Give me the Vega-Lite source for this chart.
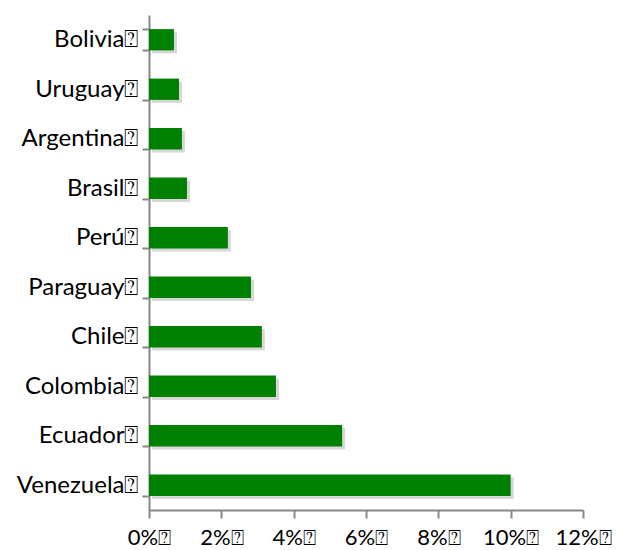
{
  "$schema": "https://vega.github.io/schema/vega-lite/v6.json",
  "autosize": "none",
  "padding": {"left": 149, "top": 15, "right": 40, "bottom": 40},
  "width": 434,
  "height": 495,
  "background": "white",
  "config": {"view": {"stroke": null}},
  "data": {"values": [
    {"pais": "Bolivia⍰", "valor": 0.0069},
    {"pais": "Uruguay⍰", "valor": 0.0083},
    {"pais": "Argentina⍰", "valor": 0.0091},
    {"pais": "Brasil⍰", "valor": 0.0105},
    {"pais": "Perú⍰", "valor": 0.0218},
    {"pais": "Paraguay⍰", "valor": 0.0282},
    {"pais": "Chile⍰", "valor": 0.0312},
    {"pais": "Colombia⍰", "valor": 0.0351},
    {"pais": "Ecuador⍰", "valor": 0.0534},
    {"pais": "Venezuela⍰", "valor": 0.1}
  ]},
  "layer": [
    {
      "mark": {"type": "bar", "color": "#b0b0b0", "opacity": 0.5, "xOffset": 3, "yOffset": 3},
      "encoding": {
        "y": {"field": "pais", "type": "nominal", "sort": {"field": "valor", "order": "ascending"}},
        "x": {"field": "valor", "type": "quantitative"}
      }
    },
    {
      "mark": {"type": "bar", "color": "#008000"},
      "encoding": {
        "y": {
          "field": "pais", "type": "nominal",
          "sort": {"field": "valor", "order": "ascending"},
          "scale": {"paddingInner": 0.57, "paddingOuter": 0.285},
          "axis": {
            "title": null,
            "domainColor": "#868686", "domainWidth": 2,
            "tickColor": "#868686", "tickWidth": 2, "tickSize": 7,
            "tickBand": "extent",
            "labelFont": "Lato", "labelFontSize": 24, "labelColor": "#000000",
            "labelOverlap": false,
            "labelPadding": 4
          }
        },
        "x": {
          "field": "valor", "type": "quantitative",
          "scale": {"domain": [0, 0.12], "nice": false},
          "axis": {
            "title": null,
            "values": [0, 0.02, 0.04, 0.06, 0.08, 0.1, 0.12],
            "labelExpr": "format(datum.value, '.0%') + '⍰'",
            "grid": false,
            "domainColor": "#868686", "domainWidth": 2,
            "tickColor": "#868686", "tickWidth": 2, "tickSize": 8,
            "labelFont": "Lato", "labelFontSize": 22, "labelColor": "#000000",
            "labelOverlap": false,
            "labelFlush": false,
            "labelBaseline": "alphabetic",
            "labelPadding": 26
          }
        }
      }
    }
  ]
}
